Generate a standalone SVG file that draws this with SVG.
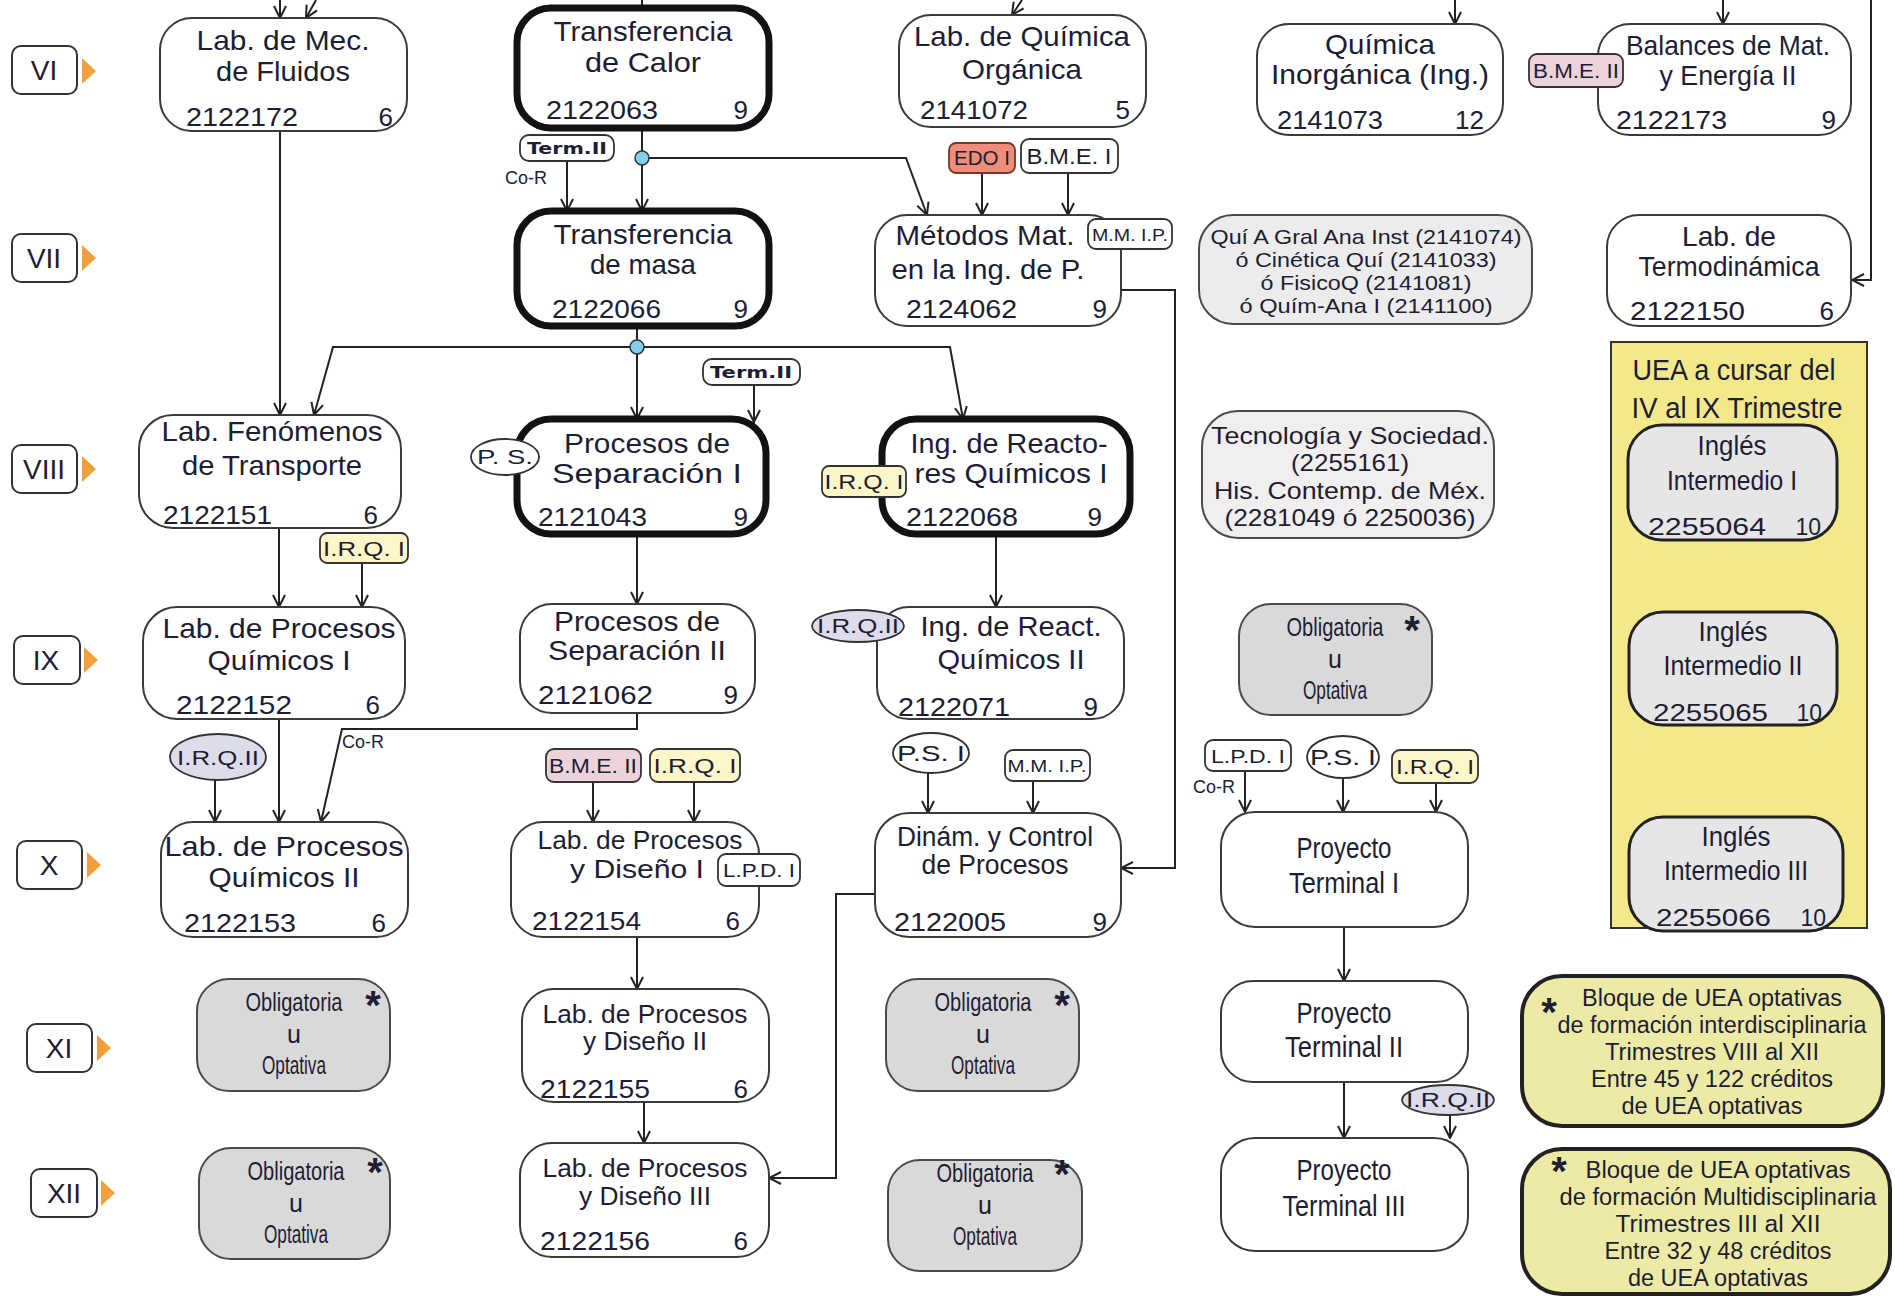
<svg xmlns="http://www.w3.org/2000/svg" width="1895" height="1296" viewBox="0 0 1895 1296">
<defs>
<style>
text{font-family:"Liberation Sans",Arial,sans-serif;fill:#1d1d33}
.n{fill:#fff;stroke:#3a3a3a;stroke-width:2}
.k{fill:#fff;stroke:#121212;stroke-width:7}
.g{fill:#d9d9d9;stroke:#4a4a4a;stroke-width:2}
.lg{fill:#ececec;stroke:#4a4a4a;stroke-width:2}
.t{font-size:28px;text-anchor:middle}
.cd{font-size:26px}
.cr{font-size:26px;text-anchor:end}
.m{text-anchor:middle}
.bd{fill:#fff;stroke:#333;stroke-width:1.8}
.pk{fill:#ecd3da;stroke:#333;stroke-width:1.8}
.yl{fill:#fdf6c8;stroke:#333;stroke-width:1.8}
.lv{fill:#dcdcea;stroke:#333;stroke-width:1.8}
.bt{font-size:20px;text-anchor:middle}
.c{fill:none;stroke:#222;stroke-width:2;marker-end:url(#ah)}
.sem{fill:#fff;stroke:#333;stroke-width:2}
.tri{fill:#f2a03c}
.semt{font-size:28px;text-anchor:middle}
.st{font-size:40px;font-weight:bold;text-anchor:middle}
.ob{font-size:25px;text-anchor:middle}
.pt{font-size:30px;text-anchor:middle}
.bq{font-size:23px;text-anchor:middle}
.cor{font-size:18px}
.term{font-family:"DejaVu Sans",Verdana,sans-serif;font-size:15px;font-weight:bold;text-anchor:middle}
</style>
<marker id="ah" viewBox="0 0 14 14" markerWidth="14" markerHeight="14" refX="13" refY="7" orient="auto" markerUnits="userSpaceOnUse"><path d="M1,1 L13,7 L1,13" fill="none" stroke="#222" stroke-width="2"/></marker>
</defs>
<rect width="1895" height="1296" fill="#fff"/>

<!-- semester labels -->
<g id="sem-VI"><rect class="sem" x="12" y="46" width="65" height="48" rx="9"/><text class="semt" x="44" y="80">VI</text><path class="tri" d="M82,58 L96,71 L82,84Z"/></g>
<g id="sem-VII"><rect class="sem" x="12" y="234" width="65" height="48" rx="9"/><text class="semt" x="44" y="268">VII</text><path class="tri" d="M82,245 L96,258 L82,271Z"/></g>
<g id="sem-VIII"><rect class="sem" x="12" y="445" width="65" height="48" rx="9"/><text class="semt" x="44" y="479">VIII</text><path class="tri" d="M82,456 L96,469 L82,482Z"/></g>
<g id="sem-IX"><rect class="sem" x="14" y="636" width="66" height="48" rx="9"/><text class="semt" x="46" y="670">IX</text><path class="tri" d="M84,647 L98,660 L84,673Z"/></g>
<g id="sem-X"><rect class="sem" x="17" y="841" width="65" height="48" rx="9"/><text class="semt" x="49" y="875">X</text><path class="tri" d="M87,852 L101,865 L87,878Z"/></g>
<g id="sem-XI"><rect class="sem" x="27" y="1024" width="65" height="48" rx="9"/><text class="semt" x="59" y="1058">XI</text><path class="tri" d="M97,1035 L111,1048 L97,1061Z"/></g>
<g id="sem-XII"><rect class="sem" x="31" y="1169" width="66" height="48" rx="9"/><text class="semt" x="64" y="1203">XII</text><path class="tri" d="M101,1180 L115,1193 L101,1206Z"/></g>

<!-- connectors -->
<g id="connectors">
<path class="c" d="M280,0 V18"/>
<path class="c" d="M316,0 L306,18"/>
<path d="M642,0 V8" stroke="#222" stroke-width="2"/>
<path class="c" d="M1022,0 L1012,15"/>
<path class="c" d="M1455,0 V24"/>
<path class="c" d="M1723,0 V24"/>
<path class="c" d="M1871,0 V280 H1852"/>
<path class="c" d="M280,131 V415"/>
<path class="c" d="M642,128 V211"/>
<path class="c" d="M642,158 H906 L927,215"/>
<path class="c" d="M567,161 V211"/>
<path class="c" d="M982,173 V215"/>
<path class="c" d="M1068,173 V215"/>
<path class="c" d="M1121,290 H1175 V868 H1121"/>
<path class="c" d="M637,326 V419"/>
<path class="c" d="M637,347 H333 L314,415"/>
<path class="c" d="M637,347 H950 L963,419"/>
<path class="c" d="M754,385 V422"/>
<path class="c" d="M279,528 V607"/>
<path class="c" d="M362,563 V607"/>
<path class="c" d="M637,534 V604"/>
<path class="c" d="M996,534 V607"/>
<path class="c" d="M637,713 V729 H342 L321,822"/>
<path class="c" d="M279,719 V822"/>
<path class="c" d="M215,780 V822"/>
<path class="c" d="M593,782 V822"/>
<path class="c" d="M694,782 V822"/>
<path class="c" d="M928,773 V813"/>
<path class="c" d="M1033,781 V813"/>
<path class="c" d="M875,894 H836 V1178 H769"/>
<path class="c" d="M637,937 V989"/>
<path class="c" d="M644,1102 V1143"/>
<path class="c" d="M1245,771 V812"/>
<path class="c" d="M1343,778 V812"/>
<path class="c" d="M1436,783 V812"/>
<path class="c" d="M1344,927 V981"/>
<path class="c" d="M1344,1082 V1138"/>
<path class="c" d="M1450,1115 V1138"/>
<circle cx="642" cy="158" r="7" fill="#7fcfee" stroke="#333" stroke-width="1.5"/>
<circle cx="637" cy="347" r="7" fill="#7fcfee" stroke="#333" stroke-width="1.5"/>
<text class="cor" x="505" y="184">Co-R</text>
<text class="cor" x="342" y="748">Co-R</text>
<text class="cor" x="1193" y="793">Co-R</text>
</g>

<!-- VI -->
<g id="n2122172"><rect class="n" x="160" y="18" width="247" height="113" rx="32"/>
<text class="t" x="283" y="50" textLength="173" lengthAdjust="spacingAndGlyphs">Lab. de Mec.</text>
<text class="t" x="283" y="81" textLength="134" lengthAdjust="spacingAndGlyphs">de Fluidos</text>
<text class="cd" x="186" y="126" textLength="112" lengthAdjust="spacingAndGlyphs">2122172</text><text class="cr" x="393" y="126">6</text></g>

<g id="n2122063"><rect class="k" x="517" y="8" width="252" height="120" rx="34"/>
<text class="t" x="643" y="41" textLength="179" lengthAdjust="spacingAndGlyphs">Transferencia</text>
<text class="t" x="643" y="72" textLength="116" lengthAdjust="spacingAndGlyphs">de Calor</text>
<text class="cd" x="546" y="119" textLength="112" lengthAdjust="spacingAndGlyphs">2122063</text><text class="cr" x="748" y="119">9</text></g>

<g id="n2141072"><rect class="n" x="899" y="15" width="247" height="112" rx="32"/>
<text class="t" x="1022" y="46" textLength="216" lengthAdjust="spacingAndGlyphs">Lab. de Química</text>
<text class="t" x="1022" y="79" textLength="120" lengthAdjust="spacingAndGlyphs">Orgánica</text>
<text class="cd" x="920" y="119" textLength="108" lengthAdjust="spacingAndGlyphs">2141072</text><text class="cr" x="1130" y="119">5</text></g>

<g id="n2141073"><rect class="n" x="1257" y="24" width="246" height="111" rx="32"/>
<text class="t" x="1380" y="54" textLength="110" lengthAdjust="spacingAndGlyphs">Química</text>
<text class="t" x="1380" y="84" textLength="218" lengthAdjust="spacingAndGlyphs">Inorgánica (Ing.)</text>
<text class="cd" x="1277" y="129" textLength="106" lengthAdjust="spacingAndGlyphs">2141073</text><text class="cr" x="1484" y="129">12</text></g>

<g id="n2122173"><rect class="n" x="1598" y="24" width="253" height="111" rx="32"/>
<text class="t" x="1728" y="55" textLength="204" lengthAdjust="spacingAndGlyphs">Balances de Mat.</text>
<text class="t" x="1728" y="85" textLength="137" lengthAdjust="spacingAndGlyphs">y Energía II</text>
<text class="cd" x="1616" y="129" textLength="111" lengthAdjust="spacingAndGlyphs">2122173</text><text class="cr" x="1836" y="129">9</text></g>
<g id="b-bme2-top"><rect class="pk" x="1529" y="54" width="94" height="33" rx="8"/><text class="bt" x="1576" y="78" textLength="86" lengthAdjust="spacingAndGlyphs">B.M.E. II</text></g>

<!-- badges VI-VII -->
<g id="b-term1"><rect class="bd" x="520" y="135" width="94" height="26" rx="9"/><text class="term" x="567" y="154" textLength="80" lengthAdjust="spacingAndGlyphs">Term.II</text></g>
<g id="b-edo1"><rect fill="#ef8c7a" stroke="#7a3526" stroke-width="1.8" x="949" y="143" width="66" height="30" rx="7"/><text class="bt" x="982" y="165" textLength="56" lengthAdjust="spacingAndGlyphs">EDO I</text></g>
<g id="b-bme1"><rect class="bd" x="1021" y="139" width="97" height="34" rx="8"/><text class="bt" x="1069" y="164" style="font-size:22px" textLength="85" lengthAdjust="spacingAndGlyphs">B.M.E. I</text></g>

<!-- VII -->
<g id="n2122066"><rect class="k" x="517" y="211" width="252" height="115" rx="34"/>
<text class="t" x="643" y="244" textLength="179" lengthAdjust="spacingAndGlyphs">Transferencia</text>
<text class="t" x="643" y="274" textLength="106" lengthAdjust="spacingAndGlyphs">de masa</text>
<text class="cd" x="552" y="318" textLength="109" lengthAdjust="spacingAndGlyphs">2122066</text><text class="cr" x="748" y="318">9</text></g>

<g id="n2124062"><rect class="n" x="875" y="215" width="246" height="111" rx="32"/>
<text class="t" x="985" y="245" textLength="179" lengthAdjust="spacingAndGlyphs">Métodos Mat.</text>
<text class="t" x="988" y="279" textLength="193" lengthAdjust="spacingAndGlyphs">en la Ing. de P.</text>
<text class="cd" x="906" y="318" textLength="111" lengthAdjust="spacingAndGlyphs">2124062</text><text class="cr" x="1107" y="318">9</text></g>
<g id="b-mmip1"><rect class="bd" x="1088" y="219" width="84" height="30" rx="8"/><text class="bt" x="1130" y="241" style="font-size:17px" textLength="76" lengthAdjust="spacingAndGlyphs">M.M. I.P.</text></g>

<g id="n-quigral"><rect class="lg" x="1199" y="215" width="333" height="109" rx="34"/>
<text class="m" style="font-size:21px" x="1366" y="244" textLength="311" lengthAdjust="spacingAndGlyphs">Quí A Gral Ana Inst (2141074)</text>
<text class="m" style="font-size:21px" x="1366" y="267" textLength="261" lengthAdjust="spacingAndGlyphs">ó Cinética Quí (2141033)</text>
<text class="m" style="font-size:21px" x="1366" y="290" textLength="211" lengthAdjust="spacingAndGlyphs">ó FisicoQ (2141081)</text>
<text class="m" style="font-size:21px" x="1366" y="313" textLength="253" lengthAdjust="spacingAndGlyphs">ó Quím-Ana I (2141100)</text></g>

<g id="n2122150"><rect class="n" x="1607" y="215" width="244" height="111" rx="32"/>
<text class="t" x="1729" y="246" textLength="94" lengthAdjust="spacingAndGlyphs">Lab. de</text>
<text class="t" x="1729" y="276" textLength="181" lengthAdjust="spacingAndGlyphs">Termodinámica</text>
<text class="cd" x="1630" y="320" textLength="115" lengthAdjust="spacingAndGlyphs">2122150</text><text class="cr" x="1834" y="320">6</text></g>

<!-- VIII -->
<g id="n2122151"><rect class="n" x="139" y="415" width="262" height="113" rx="34"/>
<text class="t" x="272" y="441" textLength="221" lengthAdjust="spacingAndGlyphs">Lab. Fenómenos</text>
<text class="t" x="272" y="475" textLength="180" lengthAdjust="spacingAndGlyphs">de Transporte</text>
<text class="cd" x="163" y="524" textLength="109" lengthAdjust="spacingAndGlyphs">2122151</text><text class="cr" x="378" y="524">6</text></g>

<g id="b-term2"><rect class="bd" x="703" y="359" width="97" height="26" rx="9"/><text class="term" x="751" y="378" textLength="82" lengthAdjust="spacingAndGlyphs">Term.II</text></g>

<g id="n2121043"><rect class="k" x="517" y="419" width="249" height="115" rx="34"/>
<text class="t" x="647" y="453" textLength="166" lengthAdjust="spacingAndGlyphs">Procesos de</text>
<text class="t" x="647" y="483" textLength="190" lengthAdjust="spacingAndGlyphs">Separación I</text>
<text class="cd" x="538" y="526" textLength="109" lengthAdjust="spacingAndGlyphs">2121043</text><text class="cr" x="748" y="526">9</text></g>
<g id="b-ps"><ellipse class="bd" cx="505" cy="457" rx="34" ry="18"/><text class="bt" x="505" y="464" textLength="56" lengthAdjust="spacingAndGlyphs">P. S.</text></g>

<g id="n2122068"><rect class="k" x="882" y="419" width="248" height="115" rx="34"/>
<text class="t" x="1009" y="453" textLength="197" lengthAdjust="spacingAndGlyphs">Ing. de Reacto-</text>
<text class="t" x="1011" y="483" textLength="193" lengthAdjust="spacingAndGlyphs">res Químicos I</text>
<text class="cd" x="906" y="526" textLength="112" lengthAdjust="spacingAndGlyphs">2122068</text><text class="cr" x="1102" y="526">9</text></g>
<g id="b-irq1a"><rect class="yl" x="822" y="466" width="84" height="31" rx="7"/><text class="bt" x="864" y="489" style="font-size:21px" textLength="79" lengthAdjust="spacingAndGlyphs">I.R.Q. I</text></g>

<g id="n-tecno"><rect fill="#f1eeee" stroke="#4a4a4a" stroke-width="2" x="1202" y="411" width="292" height="127" rx="36"/>
<text class="m" style="font-size:24px" x="1350" y="444" textLength="278" lengthAdjust="spacingAndGlyphs">Tecnología y Sociedad.</text>
<text class="m" style="font-size:24px" x="1350" y="471" textLength="118" lengthAdjust="spacingAndGlyphs">(2255161)</text>
<text class="m" style="font-size:24px" x="1350" y="499" textLength="272" lengthAdjust="spacingAndGlyphs">His. Contemp. de Méx.</text>
<text class="m" style="font-size:24px" x="1350" y="526" textLength="251" lengthAdjust="spacingAndGlyphs">(2281049 ó 2250036)</text></g>

<!-- panel -->
<g id="panel-ingles"><rect x="1611" y="342" width="256" height="586" fill="#f3e98b" stroke="#333" stroke-width="2"/>
<text class="m" style="font-size:29px" x="1734" y="380" textLength="203" lengthAdjust="spacingAndGlyphs">UEA a cursar del</text>
<text class="m" style="font-size:29px" x="1737" y="418" textLength="211" lengthAdjust="spacingAndGlyphs">IV al IX Trimestre</text></g>
<g id="n2255064"><rect fill="#e6e6e6" stroke="#222" stroke-width="3" x="1628" y="425" width="209" height="115" rx="34"/>
<text class="m" style="font-size:27px" x="1732" y="455" textLength="69" lengthAdjust="spacingAndGlyphs">Inglés</text>
<text class="m" style="font-size:27px" x="1732" y="490" textLength="130" lengthAdjust="spacingAndGlyphs">Intermedio I</text>
<text class="cd" style="font-size:23px" x="1648" y="535" textLength="118" lengthAdjust="spacingAndGlyphs">2255064</text><text class="cr" style="font-size:23px" x="1821" y="535">10</text></g>
<g id="n2255065"><rect fill="#e6e6e6" stroke="#222" stroke-width="3" x="1629" y="612" width="208" height="113" rx="34"/>
<text class="m" style="font-size:27px" x="1733" y="641" textLength="69" lengthAdjust="spacingAndGlyphs">Inglés</text>
<text class="m" style="font-size:27px" x="1733" y="675" textLength="139" lengthAdjust="spacingAndGlyphs">Intermedio II</text>
<text class="cd" style="font-size:23px" x="1653" y="721" textLength="115" lengthAdjust="spacingAndGlyphs">2255065</text><text class="cr" style="font-size:23px" x="1822" y="721">10</text></g>
<g id="n2255066"><rect fill="#e6e6e6" stroke="#222" stroke-width="3" x="1629" y="817" width="214" height="114" rx="34"/>
<text class="m" style="font-size:27px" x="1736" y="846" textLength="69" lengthAdjust="spacingAndGlyphs">Inglés</text>
<text class="m" style="font-size:27px" x="1736" y="880" textLength="144" lengthAdjust="spacingAndGlyphs">Intermedio III</text>
<text class="cd" style="font-size:23px" x="1656" y="926" textLength="115" lengthAdjust="spacingAndGlyphs">2255066</text><text class="cr" style="font-size:23px" x="1826" y="926">10</text></g>

<!-- IX -->
<g id="b-irq1b"><rect class="yl" x="320" y="533" width="88" height="30" rx="7"/><text class="bt" x="364" y="556" style="font-size:21px" textLength="82" lengthAdjust="spacingAndGlyphs">I.R.Q. I</text></g>
<g id="n2122152"><rect class="n" x="143" y="607" width="262" height="112" rx="34"/>
<text class="t" x="279" y="638" textLength="233" lengthAdjust="spacingAndGlyphs">Lab. de Procesos</text>
<text class="t" x="279" y="670" textLength="143" lengthAdjust="spacingAndGlyphs">Químicos I</text>
<text class="cd" x="176" y="714" textLength="116" lengthAdjust="spacingAndGlyphs">2122152</text><text class="cr" x="380" y="714">6</text></g>

<g id="n2121062"><rect class="n" x="520" y="604" width="235" height="109" rx="32"/>
<text class="t" x="637" y="631" textLength="166" lengthAdjust="spacingAndGlyphs">Procesos de</text>
<text class="t" x="637" y="660" textLength="178" lengthAdjust="spacingAndGlyphs">Separación II</text>
<text class="cd" x="538" y="704" textLength="115" lengthAdjust="spacingAndGlyphs">2121062</text><text class="cr" x="738" y="704">9</text></g>

<g id="n2122071"><rect class="n" x="877" y="607" width="247" height="112" rx="32"/>
<text class="t" x="1011" y="636" textLength="181" lengthAdjust="spacingAndGlyphs">Ing. de React.</text>
<text class="t" x="1011" y="669" textLength="147" lengthAdjust="spacingAndGlyphs">Químicos II</text>
<text class="cd" x="898" y="716" textLength="112" lengthAdjust="spacingAndGlyphs">2122071</text><text class="cr" x="1098" y="716">9</text></g>
<g id="b-irq2a"><ellipse class="lv" cx="858" cy="626" rx="46" ry="16"/><text class="bt" x="858" y="633" textLength="82" lengthAdjust="spacingAndGlyphs">I.R.Q.II</text></g>

<g id="n-opt-ix"><rect class="g" x="1239" y="604" width="193" height="111" rx="32"/>
<text class="ob" x="1335" y="636" textLength="97" lengthAdjust="spacingAndGlyphs">Obligatoria</text>
<text class="ob" x="1335" y="668">u</text>
<text class="ob" x="1335" y="699" textLength="64" lengthAdjust="spacingAndGlyphs">Optativa</text>
<text class="st" x="1412" y="644">*</text></g>

<!-- X -->
<g id="b-irq2b"><ellipse class="lv" cx="218" cy="757" rx="48" ry="23"/><text class="bt" x="218" y="765" textLength="82" lengthAdjust="spacingAndGlyphs">I.R.Q.II</text></g>
<g id="n2122153"><rect class="n" x="161" y="822" width="247" height="115" rx="32"/>
<text class="t" x="284" y="856" textLength="239" lengthAdjust="spacingAndGlyphs">Lab. de Procesos</text>
<text class="t" x="284" y="887" textLength="151" lengthAdjust="spacingAndGlyphs">Químicos II</text>
<text class="cd" x="184" y="932" textLength="112" lengthAdjust="spacingAndGlyphs">2122153</text><text class="cr" x="386" y="932">6</text></g>

<g id="b-bme2b"><rect class="pk" x="546" y="749" width="95" height="33" rx="8"/><text class="bt" x="593" y="773" textLength="88" lengthAdjust="spacingAndGlyphs">B.M.E. II</text></g>
<g id="b-irq1c"><rect class="yl" x="650" y="749" width="90" height="33" rx="8"/><text class="bt" x="695" y="773" style="font-size:21px" textLength="83" lengthAdjust="spacingAndGlyphs">I.R.Q. I</text></g>
<g id="n2122154"><rect class="n" x="511" y="822" width="248" height="115" rx="32"/>
<text class="t" x="640" y="849" style="font-size:26px" textLength="205" lengthAdjust="spacingAndGlyphs">Lab. de Procesos</text>
<text class="t" x="637" y="878" style="font-size:26px" textLength="134" lengthAdjust="spacingAndGlyphs">y Diseño I</text>
<text class="cd" x="532" y="930" textLength="109" lengthAdjust="spacingAndGlyphs">2122154</text><text class="cr" x="740" y="930">6</text></g>
<g id="b-lpd1a"><rect class="bd" x="718" y="854" width="82" height="32" rx="8"/><text class="bt" x="759" y="877" style="font-size:18px" textLength="72" lengthAdjust="spacingAndGlyphs">L.P.D. I</text></g>

<g id="b-psi-a"><ellipse class="bd" cx="931" cy="753" rx="38" ry="20"/><text class="bt" x="931" y="761" style="font-size:22px" textLength="68" lengthAdjust="spacingAndGlyphs">P.S. I</text></g>
<g id="b-mmip2"><rect class="bd" x="1005" y="750" width="85" height="31" rx="8"/><text class="bt" x="1047" y="772" style="font-size:17px" textLength="79" lengthAdjust="spacingAndGlyphs">M.M. I.P.</text></g>
<g id="n2122005"><rect class="n" x="875" y="813" width="246" height="124" rx="34"/>
<text class="t" x="995" y="846" style="font-size:27px" textLength="196" lengthAdjust="spacingAndGlyphs">Dinám. y Control</text>
<text class="t" x="995" y="874" style="font-size:27px" textLength="147" lengthAdjust="spacingAndGlyphs">de Procesos</text>
<text class="cd" x="894" y="931" textLength="112" lengthAdjust="spacingAndGlyphs">2122005</text><text class="cr" x="1107" y="931">9</text></g>

<g id="b-lpd1b"><rect class="bd" x="1205" y="740" width="86" height="31" rx="8"/><text class="bt" x="1248" y="763" style="font-size:19px" textLength="74" lengthAdjust="spacingAndGlyphs">L.P.D. I</text></g>
<g id="b-psi-b"><ellipse class="bd" cx="1343" cy="757" rx="36" ry="21"/><text class="bt" x="1343" y="765" style="font-size:22px" textLength="66" lengthAdjust="spacingAndGlyphs">P.S. I</text></g>
<g id="b-irq1d"><rect class="yl" x="1392" y="750" width="86" height="33" rx="8"/><text class="bt" x="1435" y="774" style="font-size:21px" textLength="78" lengthAdjust="spacingAndGlyphs">I.R.Q. I</text></g>
<g id="n-pt1"><rect class="n" x="1221" y="812" width="247" height="115" rx="34"/>
<text class="pt" x="1344" y="858" textLength="95" lengthAdjust="spacingAndGlyphs">Proyecto</text>
<text class="pt" x="1344" y="893" textLength="110" lengthAdjust="spacingAndGlyphs">Terminal I</text></g>

<!-- XI -->
<g id="n-opt-xi-a"><rect class="g" x="197" y="979" width="193" height="112" rx="32"/>
<text class="ob" x="294" y="1011" textLength="97" lengthAdjust="spacingAndGlyphs">Obligatoria</text>
<text class="ob" x="294" y="1043">u</text>
<text class="ob" x="294" y="1074" textLength="64" lengthAdjust="spacingAndGlyphs">Optativa</text>
<text class="st" x="373" y="1019">*</text></g>
<g id="n2122155"><rect class="n" x="522" y="989" width="247" height="113" rx="32"/>
<text class="t" x="645" y="1023" style="font-size:26px" textLength="205" lengthAdjust="spacingAndGlyphs">Lab. de Procesos</text>
<text class="t" x="645" y="1050" style="font-size:26px" textLength="124" lengthAdjust="spacingAndGlyphs">y Diseño II</text>
<text class="cd" x="540" y="1098" textLength="110" lengthAdjust="spacingAndGlyphs">2122155</text><text class="cr" x="748" y="1098">6</text></g>
<g id="n-opt-xi-b"><rect class="g" x="886" y="979" width="193" height="112" rx="32"/>
<text class="ob" x="983" y="1011" textLength="97" lengthAdjust="spacingAndGlyphs">Obligatoria</text>
<text class="ob" x="983" y="1043">u</text>
<text class="ob" x="983" y="1074" textLength="64" lengthAdjust="spacingAndGlyphs">Optativa</text>
<text class="st" x="1062" y="1019">*</text></g>
<g id="n-pt2"><rect class="n" x="1221" y="981" width="247" height="101" rx="32"/>
<text class="pt" x="1344" y="1023" textLength="95" lengthAdjust="spacingAndGlyphs">Proyecto</text>
<text class="pt" x="1344" y="1057" textLength="118" lengthAdjust="spacingAndGlyphs">Terminal II</text></g>
<g id="n-bloque-inter"><rect fill="#edeaa6" stroke="#222" stroke-width="4" x="1522" y="976" width="361" height="150" rx="40"/>
<text class="bq" x="1712" y="1006" textLength="260" lengthAdjust="spacingAndGlyphs">Bloque de UEA optativas</text>
<text class="bq" x="1712" y="1033" textLength="309" lengthAdjust="spacingAndGlyphs">de formación interdisciplinaria</text>
<text class="bq" x="1712" y="1060" textLength="214" lengthAdjust="spacingAndGlyphs">Trimestres VIII al XII</text>
<text class="bq" x="1712" y="1087" textLength="242" lengthAdjust="spacingAndGlyphs">Entre 45 y 122 créditos</text>
<text class="bq" x="1712" y="1114" textLength="181" lengthAdjust="spacingAndGlyphs">de UEA optativas</text>
<text class="st" x="1549" y="1026">*</text></g>

<!-- XII -->
<g id="n-opt-xii-a"><rect class="g" x="199" y="1148" width="191" height="111" rx="32"/>
<text class="ob" x="296" y="1180" textLength="97" lengthAdjust="spacingAndGlyphs">Obligatoria</text>
<text class="ob" x="296" y="1212">u</text>
<text class="ob" x="296" y="1243" textLength="64" lengthAdjust="spacingAndGlyphs">Optativa</text>
<text class="st" x="375" y="1186">*</text></g>
<g id="n2122156"><rect class="n" x="520" y="1143" width="249" height="114" rx="32"/>
<text class="t" x="645" y="1177" style="font-size:26px" textLength="205" lengthAdjust="spacingAndGlyphs">Lab. de Procesos</text>
<text class="t" x="645" y="1205" style="font-size:26px" textLength="132" lengthAdjust="spacingAndGlyphs">y Diseño III</text>
<text class="cd" x="540" y="1250" textLength="110" lengthAdjust="spacingAndGlyphs">2122156</text><text class="cr" x="748" y="1250">6</text></g>
<g id="n-opt-xii-b"><rect class="g" x="888" y="1160" width="194" height="111" rx="32"/>
<text class="ob" x="985" y="1182" textLength="97" lengthAdjust="spacingAndGlyphs">Obligatoria</text>
<text class="ob" x="985" y="1214">u</text>
<text class="ob" x="985" y="1245" textLength="64" lengthAdjust="spacingAndGlyphs">Optativa</text>
<text class="st" x="1062" y="1188">*</text></g>
<g id="b-irq2c"><ellipse class="lv" cx="1448" cy="1100" rx="46" ry="15"/><text class="bt" x="1448" y="1107" textLength="84" lengthAdjust="spacingAndGlyphs">I.R.Q.II</text></g>
<g id="n-pt3"><rect class="n" x="1221" y="1138" width="247" height="113" rx="34"/>
<text class="pt" x="1344" y="1180" textLength="95" lengthAdjust="spacingAndGlyphs">Proyecto</text>
<text class="pt" x="1344" y="1216" textLength="123" lengthAdjust="spacingAndGlyphs">Terminal III</text></g>
<g id="n-bloque-multi"><rect fill="#edeaa6" stroke="#222" stroke-width="4" x="1522" y="1149" width="368" height="145" rx="40"/>
<text class="bq" x="1718" y="1178" textLength="265" lengthAdjust="spacingAndGlyphs">Bloque de UEA optativas</text>
<text class="bq" x="1718" y="1205" textLength="317" lengthAdjust="spacingAndGlyphs">de formación Multidisciplinaria</text>
<text class="bq" x="1718" y="1232" textLength="205" lengthAdjust="spacingAndGlyphs">Trimestres III al XII</text>
<text class="bq" x="1718" y="1259" textLength="227" lengthAdjust="spacingAndGlyphs">Entre 32 y 48 créditos</text>
<text class="bq" x="1718" y="1286" textLength="180" lengthAdjust="spacingAndGlyphs">de UEA optativas</text>
<text class="st" x="1559" y="1185">*</text></g>
</svg>
